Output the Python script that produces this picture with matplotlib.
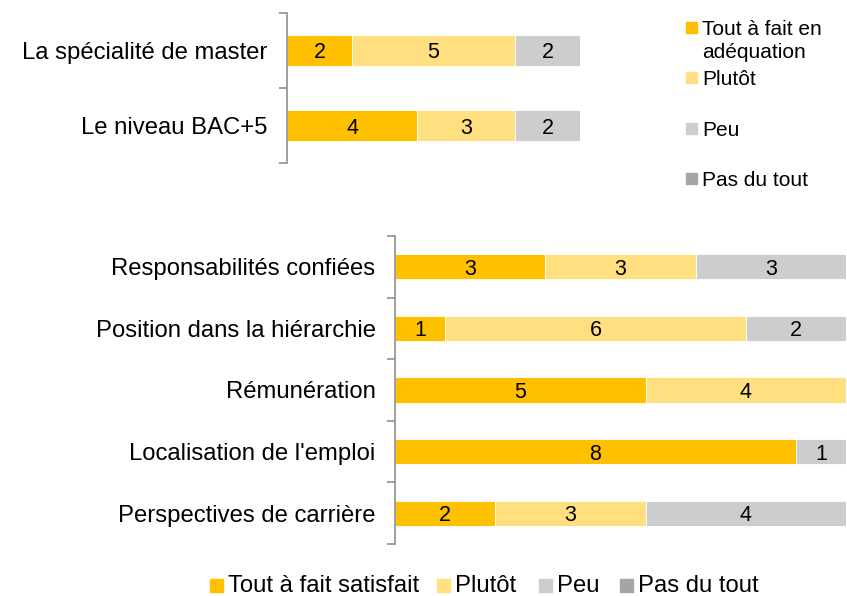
import matplotlib
matplotlib.use("Agg")
import matplotlib.pyplot as plt
from matplotlib.patches import Rectangle
import numpy as np

plt.rcParams["font.family"] = ["Liberation Sans", "DejaVu Sans"]

# données
niveaux = ["Tout à fait", "Plutôt", "Peu", "Pas du tout"]
couleurs = ["#FFC000", "#FFDF80", "#CDCDCD", "#A5A5A5"]

cat_haut = ["La spécialité de master", "Le niveau BAC+5"]
haut_tout = [2, 4]
haut_plutot = [5, 3]
haut_peu = [2, 2]
haut_pas = [0, 0]

cat_bas = ["Responsabilités confiées", "Position dans la hiérarchie",
           "Rémunération", "Localisation de l'emploi", "Perspectives de carrière"]
bas_tout = [3, 1, 5, 8, 2]
bas_plutot = [3, 6, 4, 0, 3]
bas_peu = [3, 2, 0, 1, 4]
bas_pas = [0, 0, 0, 0, 0]

legende_haut = ["Tout à fait en\nadéquation", "Plutôt", "Peu", "Pas du tout"]
legende_bas = ["Tout à fait satisfait", "Plutôt", "Peu", "Pas du tout"]


def barres(ax, cats, series):
    y = np.arange(len(cats))
    left = np.zeros(len(cats))
    for vals, col in zip(series, couleurs):
        vals = np.array(vals, dtype=float)
        rects = ax.barh(y, vals, left=left, height=0.41, color=col,
                        edgecolor="white", linewidth=0.6)
        for r, v in zip(rects, vals):
            if v > 0:
                ax.text(r.get_x() + r.get_width() / 2, r.get_y() + r.get_height() / 2,
                        f"{int(v)}", ha="center", va="center_baseline", fontsize=15.5)
        left += vals
    ax.set_xlim(0, 9)
    ax.set_ylim(len(cats) - 0.5, -0.5)
    ax.set_yticks(y)
    ax.set_yticklabels(cats, fontsize=17.2)
    ax.set_yticks(np.arange(len(cats) + 1) - 0.5, minor=True)
    ax.tick_params(axis="y", which="major", length=0, pad=14)
    ax.tick_params(axis="y", which="minor", length=6, color="#909090", width=1.2)
    ax.set_xticks([])
    for s in ["top", "right", "bottom"]:
        ax.spines[s].set_visible(False)
    ax.spines["left"].set_color("#909090")
    ax.spines["left"].set_linewidth(1.2)


fig = plt.figure(figsize=(8.47, 5.96), dpi=100)

ax1 = fig.add_axes([287 / 847, 1 - 163 / 596, 293 / 847, 150 / 596])
barres(ax1, cat_haut, [haut_tout, haut_plutot, haut_peu, haut_pas])

ax2 = fig.add_axes([395 / 847, 1 - 544 / 596, 451 / 847, 308 / 596])
barres(ax2, cat_bas, [bas_tout, bas_plutot, bas_peu, bas_pas])

W, H = 847, 596

# légende du haut
bases_haut = [35, 85, 136, 186]
for lab, col, yb in zip(legende_haut, couleurs, bases_haut):
    fig.add_artist(Rectangle((686 / W, 1 - (yb - 2) / H), 11 / W, 11 / H,
                             transform=fig.transFigure, color=col))
    for k, ligne in enumerate(lab.split("\n")):
        fig.text(702 / W, 1 - (yb + 22.5 * k) / H, ligne, fontsize=15,
                 va="baseline", ha="left")

# légende du bas
xs_carre = [210, 437, 539, 620]
xs_texte = [228, 455, 557, 638]
for lab, col, xc, xt in zip(legende_bas, couleurs, xs_carre, xs_texte):
    fig.add_artist(Rectangle((xc / W, 1 - 592 / H), 13 / W, 13 / H,
                             transform=fig.transFigure, color=col))
    fig.text(xt / W, 1 - 592 / H, lab, fontsize=17.2, va="baseline", ha="left")

fig.savefig("out.png", dpi=100)
